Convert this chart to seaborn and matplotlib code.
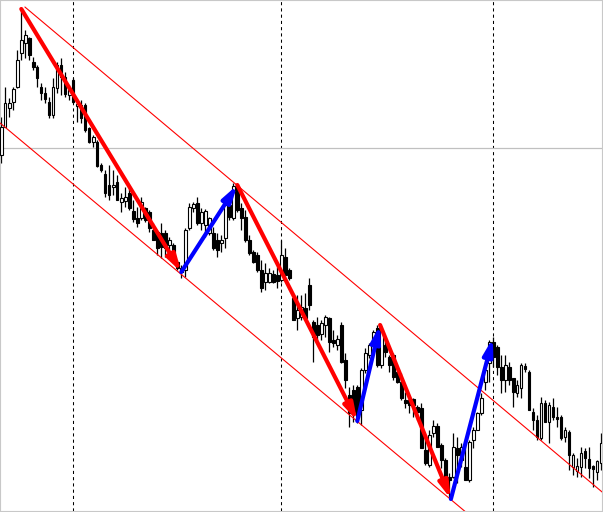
import numpy as np
import pandas as pd
import matplotlib
matplotlib.use("Agg")
import matplotlib.pyplot as plt
import seaborn as sns

# ---- OHLC data (candle index 0..150) ----
high = [883, 913, 902, 913, 950, 992, 970, 963, 943, 935, 917, 913, 903, 922, 938, 942, 928, 915, 922, 900,
        900, 897, 873, 865, 860, 837, 830, 835, 830, 825, 807, 813, 812, 800, 793, 803, 793, 790, 777, 770,
        777, 770, 763, 757, 740, 735, 772, 797, 798, 803, 792, 791, 783, 773, 767, 765, 800, 805, 817, 816,
        797, 790, 765, 750, 748, 740, 737, 732, 730, 733, 760, 752, 732, 703, 705, 705, 707, 722, 680, 683,
        680, 685, 683, 670, 665, 678, 647, 613, 615, 615, 632, 652, 657, 670, 675, 672, 660, 645, 647, 630,
        627, 608, 603, 602, 595, 597, 565, 570, 580, 577, 557, 542, 527, 567, 563, 557, 555, 560, 573, 588,
        607, 633, 660, 663, 655, 645, 645, 638, 622, 620, 637, 637, 630, 592, 585, 603, 600, 598, 602, 593,
        585, 573, 570, 547, 542, 553, 552, 553, 535, 540, 567]
low = [837, 873, 883, 890, 912, 940, 942, 940, 930, 913, 900, 897, 882, 882, 907, 905, 903, 900, 897, 878,
       877, 868, 857, 853, 833, 828, 803, 800, 805, 800, 788, 793, 790, 778, 773, 780, 778, 768, 760, 745,
       742, 743, 747, 737, 730, 722, 723, 770, 788, 775, 770, 763, 765, 750, 743, 748, 752, 780, 780, 788,
       770, 758, 745, 737, 728, 708, 710, 717, 717, 712, 718, 725, 720, 680, 670, 680, 680, 690, 638, 658,
       660, 663, 648, 653, 650, 637, 612, 573, 578, 577, 575, 627, 642, 653, 633, 632, 643, 628, 620, 617,
       600, 592, 587, 583, 580, 552, 535, 533, 563, 553, 532, 517, 503, 522, 517, 533, 520, 518, 552, 570,
       585, 610, 618, 633, 625, 607, 608, 615, 593, 603, 602, 628, 590, 570, 560, 560, 578, 557, 580, 573,
       560, 558, 530, 525, 523, 523, 532, 522, 513, 520, 530]
open_ = [845, 873, 892, 898, 913, 947, 957, 962, 938, 933, 913, 907, 898, 885, 912, 935, 923, 905, 920, 894,
         895, 895, 872, 858, 858, 835, 826, 815, 813, 818, 798, 799, 807, 789, 782, 782, 792, 788, 770, 768,
         767, 767, 755, 755, 738, 732, 730, 772, 792, 797, 777, 775, 767, 767, 760, 757, 762, 795, 782, 813,
         792, 783, 760, 748, 745, 730, 718, 718, 726, 725, 720, 743, 730, 702, 682, 683, 692, 715, 678, 675,
         666, 675, 682, 660, 655, 675, 640, 605, 610, 613, 590, 630, 645, 655, 672, 635, 655, 643, 645, 628,
         618, 600, 600, 601, 593, 592, 550, 535, 567, 574, 555, 540, 523, 523, 552, 540, 533, 520, 560, 570,
         587, 618, 637, 658, 653, 633, 620, 633, 622, 607, 612, 634, 628, 588, 580, 562, 597, 578, 593, 583,
         583, 563, 568, 533, 529, 533, 549, 541, 534, 528, 537]
close = [873, 897, 897, 911, 940, 960, 965, 945, 933, 922, 907, 901, 885, 913, 935, 923, 906, 910, 898, 896,
         882, 870, 858, 863, 834, 830, 807, 805, 815, 800, 802, 803, 792, 781, 777, 798, 780, 772, 760, 752,
         753, 752, 760, 740, 732, 728, 770, 793, 796, 777, 788, 789, 782, 752, 750, 760, 795, 783, 814, 790,
         782, 760, 747, 738, 730, 712, 727, 727, 718, 719, 745, 725, 722, 680, 690, 693, 682, 695, 663, 665,
         677, 683, 658, 657, 661, 638, 620, 587, 588, 583, 630, 647, 655, 668, 635, 670, 648, 635, 623, 618,
         602, 597, 595, 595, 588, 552, 537, 565, 574, 553, 540, 523, 520, 553, 545, 553, 520, 558, 570, 587,
         602, 630, 658, 643, 633, 620, 635, 620, 608, 615, 635, 631, 590, 580, 563, 597, 578, 595, 583, 581,
         562, 570, 545, 545, 534, 547, 542, 532, 531, 539, 557]

# ---- zig-zag pivots (candle index, price) ----
pivot_idx = [5, 45, 59, 89, 94.7, 112.4, 122.9]
pivot_price = [991, 728, 815, 579, 675, 501, 662]
pivot_colors = ["red", "blue", "red", "blue", "red", "blue"]

# ---- channel lines ----
upper_x = [5.9, 150.5]
upper_y = [993, 507]
lower_x = [-0.5, 120.0]
lower_y = [877.6, 475.0]

# ---- separators ----
sep_idx = [18, 70, 123]
hline_price = 852

sns.set_style("white")
fig = plt.figure(figsize=(6.03, 5.12), dpi=100)
ax = fig.add_axes([0, 1 / 512, 602 / 603, 511 / 512])

df = pd.DataFrame({"high": high, "low": low, "open": open_, "close": close})
df["idx"] = np.arange(len(df))

# separators
for s in sep_idx:
    ax.axvline(s, color="black", lw=0.75, ls=(0, (3, 3)), zorder=1)
ax.axhline(hline_price, color="#c0c0c0", lw=0.9, zorder=1)

# wicks
ax.vlines(df["idx"], df["low"], df["high"], color="black", lw=0.9, zorder=2)
# bodies
up = df["close"] >= df["open"]
bottoms = np.minimum(df["open"], df["close"])
heights = np.maximum(np.abs(df["close"] - df["open"]), 1.2)
ax.bar(df["idx"][up], heights[up], bottom=bottoms[up], width=0.6,
       color="white", edgecolor="black", linewidth=0.8, zorder=3)
ax.bar(df["idx"][~up], heights[~up], bottom=bottoms[~up], width=0.6,
       color="black", edgecolor="black", linewidth=0.8, zorder=3)

# channel lines
ch = pd.DataFrame({"x": upper_x + lower_x, "y": upper_y + lower_y,
                   "line": ["upper", "upper", "lower", "lower"]})
sns.lineplot(data=ch, x="x", y="y", units="line", estimator=None,
             color="red", lw=0.8, ax=ax, zorder=4, legend=False)

# zig-zag arrows
for i in range(len(pivot_idx) - 1):
    ax.annotate("", xy=(pivot_idx[i + 1], pivot_price[i + 1]),
                xytext=(pivot_idx[i], pivot_price[i]),
                arrowprops=dict(arrowstyle="-|>,head_length=0.7,head_width=0.2",
                                color=pivot_colors[i], lw=3,
                                mutation_scale=14, shrinkA=0, shrinkB=0),
                zorder=5)

ax.set_xlim(-0.325, 150.175)
ax.set_ylim(489, 1000)
ax.set_xticks([])
ax.set_yticks([])
ax.set_xlabel("")
ax.set_ylabel("")
for sp in ax.spines.values():
    sp.set_color("#c8c8c8")
    sp.set_linewidth(0.8)

fig.savefig("out.png", dpi=100)
